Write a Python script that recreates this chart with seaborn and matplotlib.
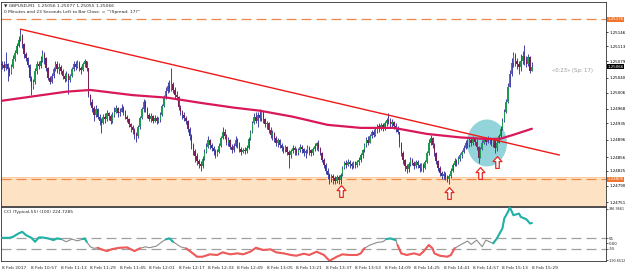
import numpy as np
import matplotlib
matplotlib.use("Agg")
import matplotlib.pyplot as plt
import matplotlib.transforms as mtransforms
from matplotlib.path import Path
from matplotlib.patches import Ellipse
import seaborn as sns

# prices are stored as points (1e-5) above this base
base = 1.24700

close_pts = [370,362,372,360,352,365,384,398,415,428,
             440,418,395,385,370,340,318,330,355,372,
             368,380,395,385,362,340,330,345,360,372,
             360,366,355,345,338,350,335,345,360,372,
             365,375,362,358,372,378,362,300,285,270,
             255,268,250,240,236,250,245,258,252,240,
             255,262,270,258,262,270,262,250,245,232,
             225,218,210,205,225,248,268,285,270,255,
             245,252,240,248,240,242,255,275,295,310,
             322,315,325,312,300,295,272,262,255,248,
             240,222,205,185,170,158,148,140,135,152,
             168,180,195,185,178,170,160,168,182,200,
             215,205,190,195,180,172,182,195,188,175,
             168,172,170,178,198,215,235,250,240,255,
             248,260,245,232,235,220,208,212,200,190,
             195,185,178,172,180,168,160,170,178,172,
             165,172,180,175,165,170,178,172,165,175,
             182,188,178,165,150,138,125,115,105,112,
             108,100,110,102,115,130,142,138,145,140,
             135,142,138,145,150,160,172,185,195,190,
             205,215,208,220,228,222,230,225,235,242,
             240,232,238,228,222,215,190,165,150,135,
             128,140,150,142,135,145,138,130,138,132,
             145,165,190,200,185,165,148,132,120,112,
             118,110,105,112,125,138,148,142,152,160,
             168,178,190,185,195,188,198,192,180,155,
             175,190,198,192,200,195,188,195,178,190,
             205,222,240,262,285,320,350,375,392,380,
             372,365,378,390,382,372,388,356,366]

high_pts = [380,378,400,375,366,372,392,405,420,436,
            453,442,420,400,388,372,345,338,362,378,
            380,390,405,400,388,365,345,352,366,380,
            378,374,370,360,352,356,352,350,366,378,
            378,382,378,368,376,384,380,362,302,290,
            275,276,270,256,248,256,258,265,262,256,
            262,272,278,272,270,280,275,266,255,248,
            236,230,224,215,230,252,272,292,288,272,
            258,258,255,255,252,250,262,280,300,318,
            330,335,362,330,318,310,298,276,266,262,
            252,242,225,210,190,175,165,152,148,158,
            175,190,205,198,190,182,175,175,188,206,
            225,222,210,202,198,186,190,205,200,192,
            180,178,180,185,202,220,240,258,262,262,
            268,266,262,248,240,238,225,218,215,205,
            200,198,190,182,185,182,172,176,185,182,
            178,178,186,185,178,176,184,182,176,180,
            188,192,195,180,168,155,142,130,120,118,
            118,112,115,114,120,135,148,150,152,150,
            145,148,148,150,156,165,176,190,202,205,
            210,220,222,225,232,236,236,235,240,248,
            258,246,244,240,235,228,215,192,170,152,
            140,145,156,155,148,150,150,142,142,142,
            150,170,198,208,204,188,168,150,135,125,
            124,122,115,118,130,142,155,152,158,165,
            172,185,196,198,202,200,205,202,198,182,
            180,196,204,202,206,204,200,200,196,195,
            210,228,246,268,292,328,358,385,400,398,
            385,378,395,402,416,390,396,390,377]

low_pts = [360,355,358,332,345,348,362,380,395,412,
           425,410,385,378,365,332,300,315,325,350,
           360,364,376,372,355,335,326,328,340,355,
           352,350,348,338,330,332,302,330,342,355,
           358,362,355,350,355,366,356,295,278,262,
           240,250,244,230,212,232,235,240,242,232,
           236,250,258,250,252,260,255,244,238,225,
           215,210,198,192,200,222,245,262,262,248,
           240,238,236,238,234,236,238,252,272,290,
           305,308,310,306,292,288,266,255,244,240,
           232,215,195,175,160,145,138,130,125,130,
           150,165,178,175,170,160,155,158,165,180,
           198,198,185,182,175,165,168,180,178,168,
           162,165,163,165,175,195,212,232,235,225,
           240,240,235,225,222,212,200,195,192,183,
           180,178,170,165,168,160,132,155,165,162,
           160,160,168,165,158,155,165,162,158,160,
           170,172,170,160,145,130,118,105,95,98,
           95,94,96,94,93,112,128,132,135,132,
           128,130,132,134,138,145,155,168,180,185,
           188,200,202,205,212,215,218,216,220,228,
           232,226,225,222,215,210,180,158,140,125,
           120,122,135,138,128,130,132,122,125,122,
           128,142,162,185,178,158,140,125,112,105,
           106,102,98,95,108,122,135,136,140,148,
           155,165,175,178,180,182,185,184,172,143,
           155,172,186,185,188,186,182,180,165,170,
           188,200,220,238,258,282,318,345,365,368,
           360,350,355,372,370,365,368,352,355]
first_open_pts = 372

# moving average (read every ~18 bars)
ma_idx = [0, 35, 48, 71, 90, 108, 126, 140, 158, 177, 195, 213, 231, 249, 264, 271, 278, 288]
ma_val = [1.24987, 1.25008, 1.25012, 1.25000, 1.24994, 1.24982, 1.24971, 1.24964, 1.24950,
          1.24931, 1.24924, 1.24924, 1.24910, 1.24902, 1.24898, 1.24899, 1.24908, 1.24922]

# trend line anchors
tl_idx = [10, 303]
tl_val = [1.25153, 1.24861]

# horizontal levels and zone
resist_level = 1.25176
support_level = 1.24805
zone_top = 1.24810
zone_bottom = 1.24700

# arrows under the lows, highlight circle
arrow_idx = [184, 243, 260, 269]
arrow_val = [1.24777, 1.24774, 1.24819, 1.24845]
circle_idx = 263.6
circle_val = 1.24889

cci_idx = [0,2,4,6,9,11,13,16,18,20,22,25,28,30,32,35,38,41,44,45,
           46,48,50,52,54,57,60,64,68,72,75,78,80,84,87,89,91,93,97,100,
           103,106,109,113,117,120,124,128,131,135,138,142,146,149,153,157,160,164,167,171,
           175,178,182,185,189,193,195,197,200,204,207,209,211,214,215,217,220,224,227,229,
           232,234,235,238,242,244,246,249,253,255,258,261,263,267,269,272,273,275,276,278,
           281,282,285,287,288]
cci_val = [62,62,62,73,110,128,92,62,19,66,66,56,37,56,48,19,48,29,48,56,
           19,-36,-53,-47,-64,-83,-61,-47,-43,-83,-53,-36,-47,-28,19,45,56,19,-36,-53,
           -97,-145,-145,-119,-126,-97,-119,-108,-119,-90,-47,-72,-64,-97,-108,-126,-134,-112,-126,-90,
           -126,-190,-145,-119,-126,-126,-108,-53,-17,12,19,48,56,37,-17,-108,-126,-108,-126,-90,
           -17,-53,-108,-134,-145,-126,-53,-17,26,-10,37,-36,37,1,56,165,274,345,397,310,
           328,291,266,219,225]
cci_level = 55

price_ticks = [1.25146, 1.25113, 1.25079, 1.25040, 1.25006, 1.24968, 1.24935,
               1.24896, 1.24856, 1.24825, 1.24790, 1.24751]
time_labels = ["8 Feb 2017", "8 Feb 10:57", "8 Feb 11:13", "8 Feb 11:29", "8 Feb 11:45",
               "8 Feb 12:01", "8 Feb 12:17", "8 Feb 12:33", "8 Feb 12:49", "8 Feb 13:05",
               "8 Feb 13:21", "8 Feb 13:37", "8 Feb 13:53", "8 Feb 14:09", "8 Feb 14:25",
               "8 Feb 14:41", "8 Feb 14:57", "8 Feb 15:13", "8 Feb 15:29"]
bid = 1.25066

sns.set_style("white")
plt.rcParams["font.family"] = ["DejaVu Sans"]
fs = 3.2
fs_axis = 2.9

c = base + np.array(close_pts) / 1e5
h = base + np.array(high_pts) / 1e5
l = base + np.array(low_pts) / 1e5
o = np.r_[base + first_open_pts / 1e5, c[:-1]]
x = np.arange(len(c))

fig = plt.figure(figsize=(6.25, 2.73), dpi=100)
ax = fig.add_axes([1 / 625, 1 - 205.5 / 273, 605 / 625, 203.5 / 273])
ax2 = fig.add_axes([1 / 625, 1 - 261 / 273, 605 / 625, 54 / 273])

xmin, xmax = -0.54, 328.3

# zone and levels
ax.axhspan(zone_bottom, zone_top, color="#fde3c3", lw=0, zorder=0)
ax.axhline(zone_top, color="#f8c89c", lw=0.6, zorder=0.5)
for lv in [resist_level, support_level]:
    ax.axhline(lv, color="#f0874a", lw=0.9, dashes=(8, 4), zorder=1)

ax.add_patch(Ellipse((circle_idx, circle_val), width=21.7, height=0.00109,
                     fc="#93d3da", ec="none", zorder=1))

# candles
ax.vlines(x, np.minimum(l, np.minimum(o, c)), np.maximum(h, np.maximum(o, c)),
          color="#4444a8", lw=0.7, zorder=2)
up = c >= o
body_h = np.maximum(np.abs(c - o), 0.000012)
ax.bar(x, body_h, bottom=np.minimum(o, c), width=0.75,
       color=np.where(up, "#1f9a4e", "#7a1e56"), linewidth=0, zorder=3)

sns.lineplot(x=ma_idx, y=ma_val, ax=ax, color="#d8185a", linewidth=1.6, zorder=4)
sns.lineplot(x=tl_idx, y=tl_val, ax=ax, color="#f01818", linewidth=1.0, zorder=4)

# up arrows
av = [(0, 1), (-0.75, 0.15), (-0.3, 0.15), (-0.3, -1), (0.3, -1), (0.3, 0.15), (0.75, 0.15), (0, 1)]
acodes = [Path.MOVETO] + [Path.LINETO] * 6 + [Path.CLOSEPOLY]
ax.plot(arrow_idx, arrow_val, ls="none", marker=Path(av, acodes), ms=8.5,
        mfc="white", mec="#e8281e", mew=0.9, zorder=5)

ax.set_xlim(xmin, xmax)
ax.set_ylim(1.24744, 1.25216)
ax.set_xticks([])
ax.yaxis.tick_right()
ax.set_yticks(price_ticks)
ax.set_yticklabels([f"{v:.5f}" for v in price_ticks], fontsize=fs_axis)
ax.tick_params(axis="y", length=1.5, width=0.5, pad=0.8, colors="black")

tr = mtransforms.blended_transform_factory(ax.transAxes, ax.transData)
for lv, fc in [(resist_level, "#f0742e"), (support_level, "#f0742e"), (bid, "black")]:
    ax.text(1.003, lv, f"{lv:.5f}", transform=tr, fontsize=fs_axis, color="white",
            va="center", ha="left", zorder=6,
            bbox=dict(boxstyle="square,pad=0.08", fc=fc, ec="none"))

ax.text(0.911, 0.661, "«0:23» (Sp: 17)", transform=ax.transAxes, fontsize=3.8,
        color="#9a9a9a", va="center", ha="left")
ax.text(0.005, 0.985, "▼ GBPUSD,M1  1.25056 1.25077 1.25055 1.25066", transform=ax.transAxes,
        fontsize=fs, va="center", ha="left")
ax.text(0.005, 0.952, "0 Minutes and 23 Seconds Left to Bar Close. = \"'(Spread: 17)\"'",
        transform=ax.transAxes, fontsize=fs, va="center", ha="left")

# CCI panel
cv = np.array(cci_val, dtype=float)
ci = np.array(cci_idx)
for lv in [cci_level, -cci_level]:
    ax2.axhline(lv, color="#a0a0a0", lw=0.9, dashes=(8, 4), zorder=1)
sns.lineplot(x=cci_idx, y=cci_val, ax=ax2, color="#8c8c8c", linewidth=0.8, zorder=2)
hi = cv > cci_level
lo = cv < -cci_level
hi2 = hi | np.r_[hi[1:], False] | np.r_[False, hi[:-1]]
lo2 = lo | np.r_[lo[1:], False] | np.r_[False, lo[:-1]]
ax2.plot(ci, np.where(hi2, cv, np.nan), color="#1fb3a8", lw=1.5, zorder=3)
ax2.plot(ci, np.where(lo2, cv, np.nan), color="#f05a5a", lw=1.5, zorder=3)

ax2.set_xlim(xmin, xmax)
ax2.set_ylim(-192, 400)
ax2.yaxis.tick_right()
ax2.set_yticks([380, cci_level, 0, -cci_level, -185])
ax2.set_yticklabels(["396.9661", "55", "0.00", "-55", "-190.6512"], fontsize=fs_axis)
for t in [ax2.get_yticklabels()[0], ax2.get_yticklabels()[-1]]:
    t.set_fontsize(2.4)
ax2.tick_params(axis="y", length=1.5, width=0.5, pad=0.6)
ax2.set_xticks(np.arange(0, 289, 16))
ax2.set_xticklabels(time_labels, fontsize=fs, ha="left")
ax2.tick_params(axis="x", length=2, width=0.5, pad=1.5)
ax2.text(0.005, 0.9, "CCI (Typical,55) (100) 224.7285", transform=ax2.transAxes,
         fontsize=fs, va="center", ha="left")

for a in [ax, ax2]:
    for s in a.spines.values():
        s.set_color("#303030")
        s.set_linewidth(0.6)
    a.set_xlabel("")
    a.set_ylabel("")

fig.savefig("out.png", dpi=100)
